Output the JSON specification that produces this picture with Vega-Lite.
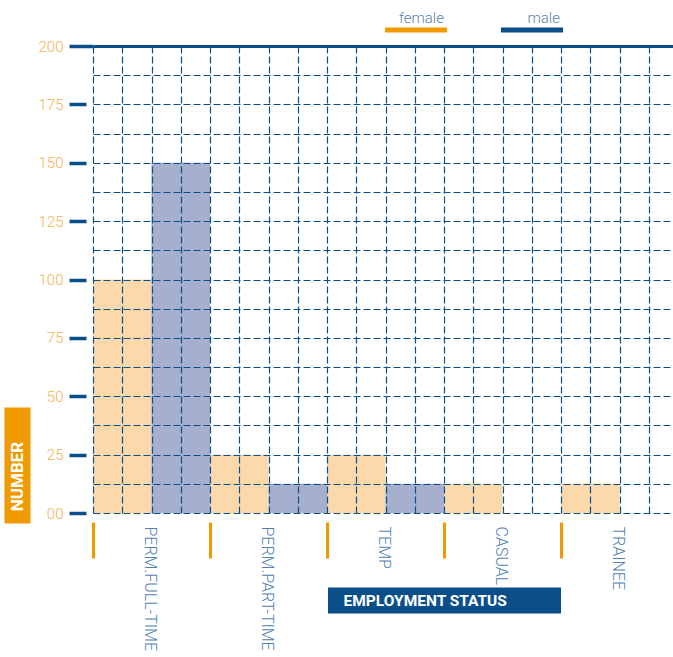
{
  "$schema": "https://vega.github.io/schema/vega-lite/v6.json",
  "width": 580,
  "height": 467,
  "autosize": {"type": "none"},
  "padding": {"left": 93, "top": 46, "right": 0, "bottom": 144},
  "background": "white",
  "config": {"view": {"stroke": null}, "font": "Roboto"},
  "datasets": {
    "table": [
      {"category": "PERM.FULL-TIME", "sex": "female", "value": 100},
      {"category": "PERM.FULL-TIME", "sex": "male", "value": 150},
      {"category": "PERM.PART-TIME", "sex": "female", "value": 25},
      {"category": "PERM.PART-TIME", "sex": "male", "value": 12.5},
      {"category": "TEMP", "sex": "female", "value": 25},
      {"category": "TEMP", "sex": "male", "value": 12.5},
      {"category": "CASUAL", "sex": "female", "value": 12.5},
      {"category": "CASUAL", "sex": "male", "value": 0},
      {"category": "TRAINEE", "sex": "female", "value": 12.5},
      {"category": "TRAINEE", "sex": "male", "value": 0}
    ]
  },
  "resolve": {
    "scale": {"x": "independent", "y": "independent"},
    "axis": {"x": "independent", "y": "independent"}
  },
  "layer": [
    {
      "data": {"name": "table"},
      "mark": {"type": "bar"},
      "encoding": {
        "x": {
          "field": "category", "type": "nominal",
          "sort": ["PERM.FULL-TIME", "PERM.PART-TIME", "TEMP", "CASUAL", "TRAINEE"],
          "scale": {"domain": ["PERM.FULL-TIME", "PERM.PART-TIME", "TEMP", "CASUAL", "TRAINEE"], "range": [0, 585], "paddingInner": 0, "paddingOuter": 0},
          "axis": {
            "orient": "bottom", "offset": 9, "bandPosition": 0,
            "domain": false, "grid": false,
            "tickColor": "#f09a00", "tickWidth": 3, "tickSize": 36,
            "labelAngle": 90, "labelOffset": -2, "labelPadding": -32,
            "labelColor": "#4f7fb3", "labelFont": "Roboto", "labelFontSize": 16, "labelFontWeight": 300,
            "title": null, "zindex": 1
          }
        },
        "xOffset": {
          "field": "sex", "type": "nominal", "sort": ["female", "male"],
          "scale": {"paddingInner": 0, "paddingOuter": 0}
        },
        "y": {
          "field": "value", "type": "quantitative",
          "scale": {"domain": [0, 200], "nice": false},
          "axis": {
            "orient": "left",
            "values": [0, 12.5, 25, 37.5, 50, 62.5, 75, 87.5, 100, 112.5, 125, 137.5, 150, 162.5, 175, 187.5, 200],
            "domain": false,
            "grid": true,
            "gridColor": "#0b4f8a",
            "gridWidth": {"condition": {"test": "datum.value === 200", "value": 3}, "value": 1.2},
            "gridDash": {"condition": {"test": "datum.value === 200", "value": []}, "value": [7, 3]},
            "tickColor": "#0b4f8a", "tickWidth": 3.5, "tickSize": 24,
            "tickDash": {"condition": {"test": "datum.value === 200", "value": []}, "value": [0, 7, 17, 0]},
            "tickOpacity": {"condition": {"test": "datum.value % 25 !== 0", "value": 0}, "value": 1},
            "labelExpr": "datum.value % 25 !== 0 ? '' : (datum.value === 0 ? '00' : datum.label)",
            "labelColor": "#f5b24f", "labelFont": "Roboto", "labelFontSize": 15, "labelFontWeight": 300, "labelPadding": 6,
            "title": null, "zindex": 1
          }
        },
        "color": {
          "field": "sex", "type": "nominal", "sort": ["female", "male"],
          "scale": {"range": ["#fbd9ab", "#a6afcd"]},
          "legend": null
        }
      }
    },
    {
      "data": {"values": [{"k": 0}]},
      "mark": {"type": "point", "opacity": 0},
      "encoding": {
        "x": {
          "datum": 0, "type": "quantitative",
          "scale": {"domain": [0, 20], "range": [0, 585], "nice": false, "zero": false},
          "axis": {
            "orient": "top",
            "values": [0, 1, 2, 3, 4, 5, 6, 7, 8, 9, 10, 11, 12, 13, 14, 15, 16, 17, 18, 19],
            "grid": true, "gridColor": "#0b4f8a", "gridWidth": 1.2, "gridDash": [7, 3],
            "ticks": false, "labels": false, "domain": false, "title": null, "zindex": 1
          }
        },
        "y": {
          "datum": 20.5, "type": "quantitative",
          "scale": {"domain": [0, 200], "nice": false},
          "axis": {
            "orient": "left", "offset": 63, "values": [20.5],
            "tickColor": "#ef9a00", "tickWidth": 116, "tickSize": 26,
            "labels": false, "domain": false, "grid": false,
            "title": "NUMBER", "titleColor": "white", "titleFont": "Roboto", "titleFontWeight": "bold", "titleFontSize": 17,
            "titleAngle": -90, "titleX": -13, "titleY": 430, "titleAlign": "center", "titleBaseline": "middle"
          }
        }
      }
    },
    {
      "data": {"name": "table"},
      "mark": {"type": "bar", "opacity": 0},
      "encoding": {
        "x": {
          "field": "category", "type": "nominal",
          "sort": ["PERM.FULL-TIME", "PERM.PART-TIME", "TEMP", "CASUAL", "TRAINEE"],
          "scale": {"domain": ["PERM.FULL-TIME", "PERM.PART-TIME", "TEMP", "CASUAL", "TRAINEE"], "range": [0, 585], "paddingInner": 0, "paddingOuter": 0},
          "axis": {
            "orient": "bottom", "offset": 74, "values": ["CASUAL"], "bandPosition": 0,
            "tickColor": "#0b4f8a", "tickWidth": 233, "tickSize": 26,
            "labels": false, "domain": false, "grid": false,
            "title": "EMPLOYMENT STATUS", "titleColor": "white", "titleFont": "Roboto", "titleFontWeight": "bold", "titleFontSize": 15.5,
            "titleX": 250, "titleY": 13, "titleAlign": "left", "titleBaseline": "middle", "titleAngle": 0
          }
        },
        "y": {
          "datum": 0, "type": "quantitative",
          "scale": {"domain": [0, 200], "nice": false},
          "axis": null
        },
        "stroke": {
          "field": "sex", "type": "nominal",
          "scale": {"domain": ["female", "male"], "range": ["#f09a00", "#0b4f8a"]},
          "legend": {
            "orient": "none", "legendX": 286, "legendY": -60, "direction": "horizontal",
            "title": null,
            "symbolType": "M -0.9 0.2 L 0.9 0.2",
            "symbolSize": 4761, "symbolStrokeWidth": 5, "symbolOpacity": 1,
            "labelAlign": "right", "labelBaseline": "alphabetic", "labelOffset": -9,
            "labelColor": "#5a82ab", "labelFont": "Roboto", "labelFontSize": 15, "labelFontWeight": 300,
            "columnPadding": 32
          }
        }
      }
    }
  ]
}
